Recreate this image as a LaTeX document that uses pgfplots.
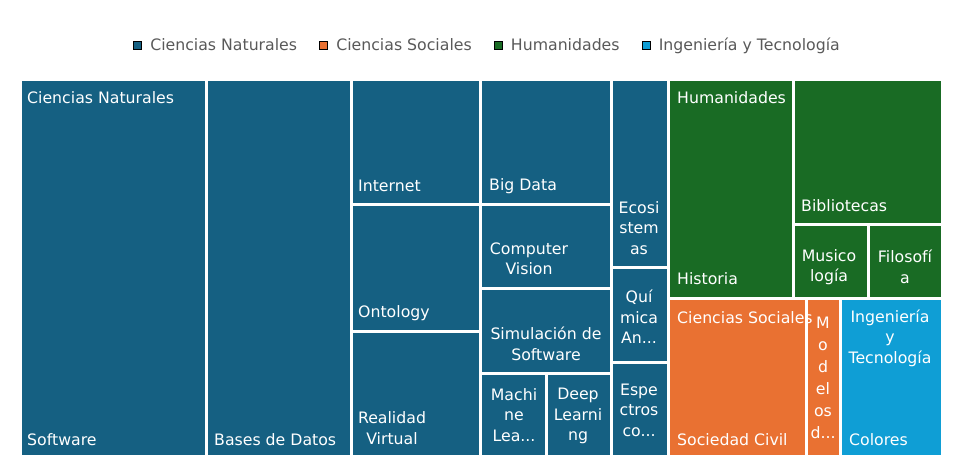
\documentclass[border=0pt]{standalone}
\usepackage{fontspec}
\setmainfont{DejaVu Sans}
\usepackage{pgfplots}
\pgfplotsset{compat=1.18}

\definecolor{cNat}{HTML}{156082}
\definecolor{cSoc}{HTML}{E97132}
\definecolor{cHum}{HTML}{196B24}
\definecolor{cIng}{HTML}{0F9ED5}
\definecolor{legtext}{HTML}{595959}

% one treemap tile: x0, y0, x1, y1 (pixels of the reference), colour
\newcommand{\tile}[5]{%
  \addplot[fill=#5, draw=white, line width=3bp, forget plot]
    coordinates {(#1,#2) (#3,#2) (#3,#4) (#1,#4)} --cycle;}

\begin{document}
\begin{tikzpicture}[
    lbl/.style={text=white, inner sep=0pt, font=\fontsize{15.8}{20.5}\selectfont},
    ml/.style={lbl, align=center, anchor=center},
]
\begin{axis}[
    scale only axis,
    width=922bp, height=376bp,
    xmin=20, xmax=942, ymin=80, ymax=456,
    y dir=reverse,
    hide axis,
    clip=false,
    legend columns=4,
    legend style={draw=none, fill=none, at={(0.507,1.093)}, anchor=center,
        font=\fontsize{15.8}{17}\selectfont, text=legtext,
        /tikz/every even column/.append style={column sep=20bp}},
    legend image code/.code={\fill[#1] (0bp,-4bp) rectangle (8bp,4bp);
        \path[draw=none, fill=none] (0bp,0bp) -- (15bp,0bp);},
]
\path (axis cs:0,0) rectangle (axis cs:955,466);

\addlegendimage{fill=cNat}
\addlegendentry{Ciencias Naturales}
\addlegendimage{fill=cSoc}
\addlegendentry{Ciencias Sociales}
\addlegendimage{fill=cHum}
\addlegendentry{Humanidades}
\addlegendimage{fill=cIng}
\addlegendentry{Ingeniería y Tecnología}

% Ciencias Naturales
\tile{20}{80}{206}{456}{cNat}
\tile{206}{80}{351}{456}{cNat}
\tile{351}{80}{480}{204}{cNat}
\tile{351}{204}{480}{331}{cNat}
\tile{351}{331}{480}{456}{cNat}
\tile{480}{80}{611}{204}{cNat}
\tile{480}{204}{611}{288}{cNat}
\tile{480}{288}{611}{373}{cNat}
\tile{480}{373}{546}{456}{cNat}
\tile{546}{373}{611}{456}{cNat}
\tile{611}{80}{668}{267}{cNat}
\tile{611}{267}{668}{362}{cNat}
\tile{611}{362}{668}{456}{cNat}
% Humanidades
\tile{668}{80}{793}{298}{cHum}
\tile{793}{80}{942}{224}{cHum}
\tile{793}{224}{868}{298}{cHum}
\tile{868}{224}{942}{298}{cHum}
% Ciencias Sociales
\tile{668}{298}{806}{456}{cSoc}
\tile{806}{298}{840}{456}{cSoc}
% Ingenieria y Tecnologia
\tile{840}{298}{942}{456}{cIng}

% labels
\node[lbl, anchor=west] at (axis cs:27,98) {Ciencias Naturales};
\node[lbl, anchor=west] at (axis cs:27,440) {Software};
\node[lbl, anchor=west] at (axis cs:214,440) {Bases de Datos};
\node[lbl, anchor=west] at (axis cs:358,186) {Internet};
\node[lbl, anchor=west] at (axis cs:358,313) {Ontology};
\node[ml] at (axis cs:392,428) {Realidad\\Virtual};
\node[lbl, anchor=west] at (axis cs:489,186) {Big Data};
\node[ml] at (axis cs:529,259) {Computer\\Vision};
\node[ml] at (axis cs:546,344) {Simulación de\\Software};
\node[ml] at (axis cs:514,415) {Machi\\ne\\Lea...};
\node[ml] at (axis cs:578,416) {Deep\\Learni\\ng};
\node[ml] at (axis cs:639,228) {Ecosi\\stem\\as};
\node[ml] at (axis cs:639,317) {Quí\\mica\\An...};
\node[ml] at (axis cs:639,410) {Espe\\ctros\\co...};
\node[lbl, anchor=west] at (axis cs:677,98) {Humanidades};
\node[lbl, anchor=west] at (axis cs:677,279) {Historia};
\node[lbl, anchor=west] at (axis cs:801,206) {Bibliotecas};
\node[ml] at (axis cs:829,267) {Musico\\logía};
\node[ml] at (axis cs:905,267) {Filosofí\\a};
\node[lbl, anchor=west] at (axis cs:677,318) {Ciencias Sociales};
\node[lbl, anchor=west] at (axis cs:677,440) {Sociedad Civil};
\node[lbl, align=center, anchor=center, font=\fontsize{15.8}{22}\selectfont] at (axis cs:823,378) {M\\o\\d\\el\\os\\d...};
\node[ml] at (axis cs:890,338) {Ingeniería\\y\\Tecnología};
\node[lbl, anchor=west] at (axis cs:849,440) {Colores};
\end{axis}
\end{tikzpicture}
\end{document}
